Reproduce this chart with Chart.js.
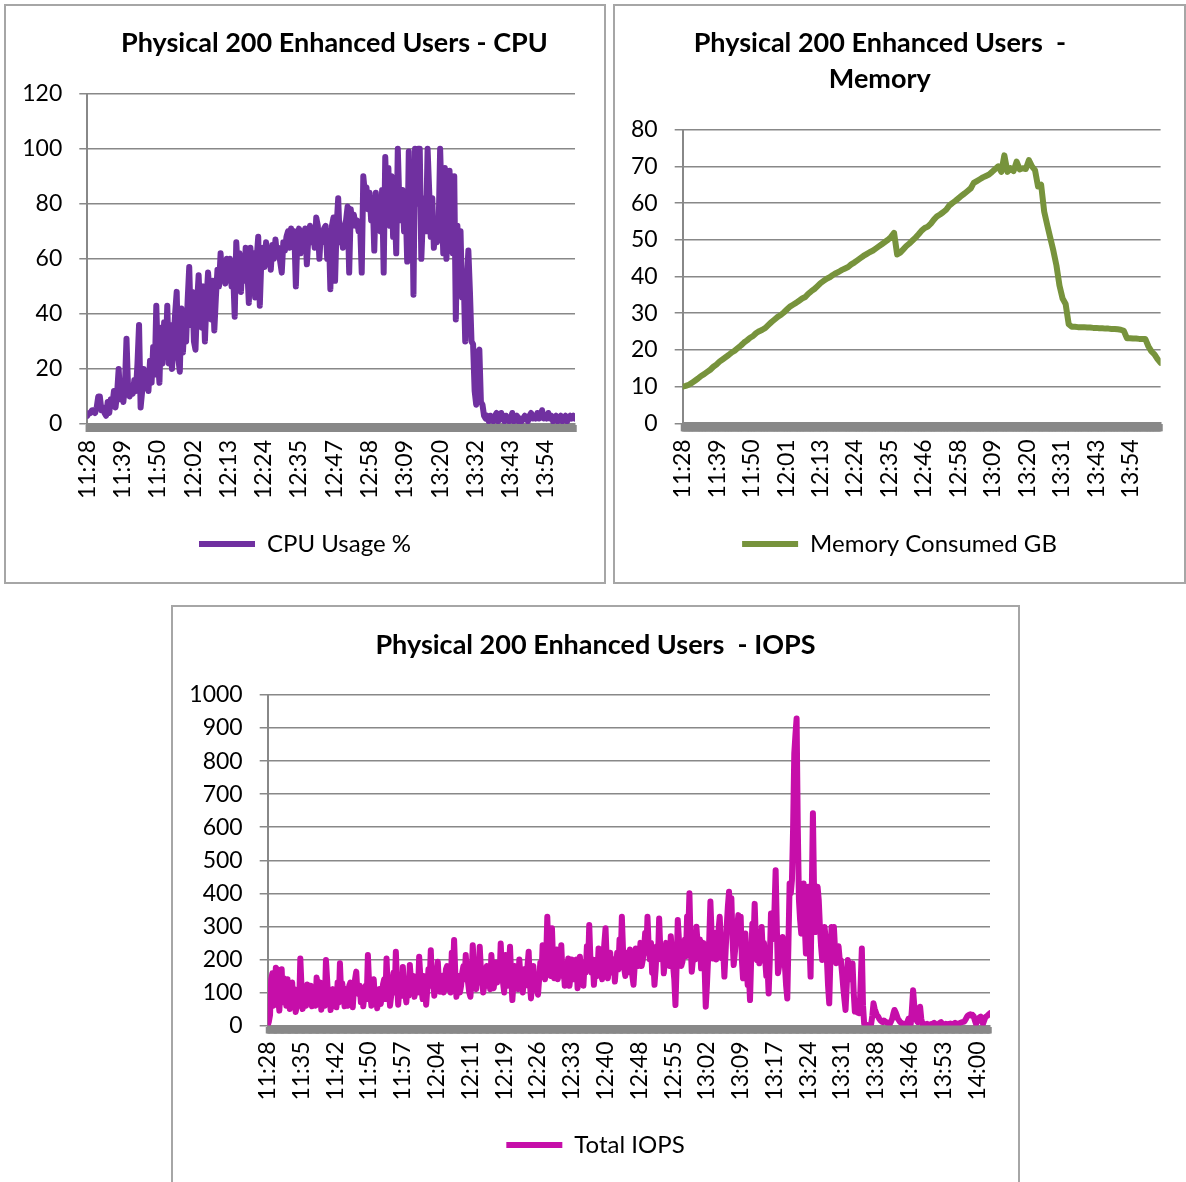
<!DOCTYPE html>
<html>
<head>
<meta charset="utf-8">
<title>Physical 200 Enhanced Users</title>
<script src="https://cdn.jsdelivr.net/npm/chart.js@4.4.1/dist/chart.umd.min.js"></script>
<style>
  html, body { margin: 0; padding: 0; background: #fff; overflow: hidden; }
  .box { position: absolute; border: 2px solid #a6a6a6; box-sizing: border-box; }
  .box canvas { display: block; }
</style>
</head>
<body>
<div class="box" style="left:4px;top:4px;width:602px;height:580px"><canvas id="cpu" width="598" height="576"></canvas></div>
<div class="box" style="left:613px;top:4px;width:573px;height:580px"><canvas id="memory" width="569" height="576"></canvas></div>
<div class="box" style="left:171px;top:605px;width:849px;height:581px"><canvas id="iops" width="845" height="577"></canvas></div>
<script>
// minutes between samples, counted from 11:28
const cpuStep = 0.5;
const memoryStep = 1;
const iopsStep = 0.25;

const cpuTimes = ['11:28', '11:39', '11:50', '12:02', '12:13', '12:24', '12:35',
  '12:47', '12:58', '13:09', '13:20', '13:32', '13:43', '13:54'];
const memoryTimes = ['11:28', '11:39', '11:50', '12:01', '12:13', '12:24', '12:35',
  '12:46', '12:58', '13:09', '13:20', '13:31', '13:43', '13:54'];
const iopsTimes = ['11:28', '11:35', '11:42', '11:50', '11:57', '12:04', '12:11', '12:19',
  '12:26', '12:33', '12:40', '12:48', '12:55', '13:02', '13:09', '13:17', '13:24', '13:31',
  '13:38', '13:46', '13:53', '14:00'];

const cpuUsage = [
  3, 4, 4, 5, 5, 4, 6, 10, 10, 5,
  6, 4, 3, 8, 4, 9, 7, 12, 6, 11,
  20, 9, 12, 8, 14, 31, 13, 10, 12, 11,
  16, 12, 22, 36, 6, 12, 20, 13, 16, 12,
  23, 15, 28, 18, 43, 24, 15, 35, 22, 37,
  25, 43, 22, 36, 20, 30, 40, 48, 24, 19,
  42, 26, 38, 30, 45, 57, 36, 48, 30, 27,
  44, 54, 40, 35, 50, 30, 45, 55, 48, 38,
  52, 34, 46, 56, 50, 62, 52, 58, 51, 60,
  54, 60, 50, 55, 39, 66, 55, 62, 48, 60,
  52, 64, 57, 44, 64, 55, 62, 46, 60, 68,
  43, 60, 64, 57, 66, 58, 63, 56, 65, 60,
  67, 61, 64, 59, 55, 66, 63, 68, 70, 64,
  71, 65, 70, 50, 68, 71, 62, 70, 66, 71,
  58, 68, 72, 66, 70, 64, 75, 72, 60, 70,
  66, 71, 72, 60, 70, 49, 72, 75, 52, 72,
  82, 66, 70, 64, 72, 74, 79, 55, 78, 72,
  76, 72, 74, 70, 72, 55, 90, 84, 86, 78,
  84, 74, 82, 63, 84, 72, 82, 70, 85, 55,
  97, 80, 93, 72, 90, 68, 80, 62, 100, 80,
  74, 85, 70, 80, 59, 99, 70, 90, 47, 100,
  80, 100, 100, 60, 75, 82, 70, 100, 85, 68,
  82, 64, 72, 66, 70, 100, 80, 62, 93, 60,
  70, 92, 66, 62, 90, 38, 72, 60, 70, 46,
  54, 30, 52, 63, 48, 30, 29, 12, 7, 26,
  27, 8, 7, 3, 2, 3, 1, 3, 2, 1,
  3, 4, 1, 2, 4, 2, 1, 3, 2, 1,
  2, 4, 1, 2, 3, 1, 2, 1, 2, 3,
  2, 1, 3, 4, 2, 3, 2, 4, 2, 3,
  5, 2, 3, 2, 4, 2, 3, 1, 2, 3,
  1, 2, 3, 1, 2, 3, 1, 2, 3, 2,
  3, 2
];

const memoryConsumed = [
  10.0, 10.2, 10.5, 11.0, 11.6, 12.2, 12.9, 13.4, 14.0, 14.6,
  15.4, 16.0, 16.8, 17.4, 18.0, 18.6, 19.3, 19.8, 20.5, 21.2,
  22.0, 22.6, 23.3, 23.8, 24.6, 25.1, 25.5, 26.0, 26.8, 27.6,
  28.3, 29.0, 29.5, 30.2, 31.0, 31.8, 32.3, 32.8, 33.4, 34.0,
  34.4, 35.3, 36.0, 36.6, 37.4, 38.2, 38.8, 39.4, 39.8, 40.4,
  40.9, 41.3, 41.8, 42.2, 42.6, 43.3, 43.8, 44.4, 45.0, 45.6,
  46.1, 46.6, 47.0, 47.6, 48.2, 48.8, 49.4, 50.0, 50.8, 51.9,
  46.0, 46.5, 47.4, 48.3, 49.0, 49.8, 50.6, 51.5, 52.5, 53.2,
  53.6, 54.4, 55.5, 56.4, 56.9, 57.5, 58.2, 59.3, 60.0, 60.6,
  61.3, 62.0, 62.6, 63.3, 64.0, 65.5, 66.0, 66.5, 67.0, 67.4,
  67.8, 68.5, 69.3, 70.0, 68.5, 73.0, 68.5, 69.5, 68.7, 71.3,
  69.2, 69.5, 69.3, 71.7, 70.0, 69.0, 64.5, 65.0, 57.7, 54.0,
  50.5, 47.0, 43.0, 37.5, 34.0, 32.5, 27.0, 26.3, 26.3, 26.2,
  26.2, 26.2, 26.1, 26.1, 26.0, 26.0, 25.9, 25.9, 25.8, 25.8,
  25.7, 25.7, 25.6, 25.5, 25.2, 23.2, 23.2, 23.1, 23.1, 23.0,
  23.0, 23.0, 21.0, 19.6, 18.8, 17.5, 16.5
];

// one reading every 15 s
const totalIops = [
  0, 12, 32, 140, 158, 60, 120, 175, 170, 80, 45, 120, 170, 70, 143, 110, 60, 140, 95, 50,
  104, 130, 70, 110, 41, 60, 100, 60, 203, 120, 50, 95, 90, 60, 124, 100, 75, 120, 58, 70,
  110, 60, 145, 120, 90, 130, 48, 80, 120, 60, 198, 140, 70, 110, 47, 90, 110, 60, 90, 55,
  130, 70, 188, 100, 128, 90, 58, 110, 100, 60, 120, 130, 80, 55, 110, 140, 163, 100, 95, 120,
  70, 115, 58, 90, 120, 80, 213, 130, 100, 60, 124, 140, 80, 110, 52, 95, 110, 65, 90, 125,
  140, 80, 203, 120, 110, 60, 90, 130, 160, 100, 223, 130, 63, 110, 140, 90, 177, 120, 100, 70,
  130, 90, 183, 135, 120, 150, 87, 120, 140, 100, 208, 150, 110, 80, 150, 120, 63, 110, 170, 130,
  228, 120, 140, 90, 120, 160, 193, 130, 102, 140, 150, 100, 120, 170, 180, 110, 140, 100, 220, 150,
  259, 160, 87, 120, 150, 100, 120, 160, 180, 140, 213, 160, 130, 100, 87, 140, 243, 180, 150, 110,
  180, 130, 238, 170, 140, 100, 124, 160, 180, 120, 150, 110, 213, 150, 113, 140, 190, 130, 170, 140,
  248, 170, 130, 100, 213, 150, 120, 170, 238, 150, 77, 130, 180, 120, 150, 110, 200, 140, 120, 100,
  170, 120, 140, 180, 223, 130, 82, 130, 180, 120, 150, 110, 93, 140, 190, 150, 243, 170, 140, 200,
  329, 220, 200, 150, 294, 190, 143, 180, 230, 140, 180, 150, 243, 160, 170, 120, 133, 170, 203, 120,
  150, 200, 190, 140, 160, 200, 113, 150, 208, 140, 150, 120, 190, 160, 240, 180, 304, 200, 160, 200,
  123, 170, 200, 150, 233, 180, 170, 140, 200, 250, 294, 200, 143, 180, 220, 160, 170, 200, 133, 180,
  220, 170, 260, 200, 329, 230, 173, 150, 220, 160, 180, 230, 203, 150, 123, 180, 233, 190, 180, 210,
  250, 180, 200, 230, 280, 220, 329, 240, 200, 250, 160, 200, 123, 170, 240, 200, 324, 230, 200, 240,
  158, 200, 250, 190, 220, 180, 270, 220, 180, 140, 62, 180, 319, 260, 230, 180, 193, 230, 260, 210,
  330, 280, 400, 250, 163, 200, 240, 200, 299, 250, 220, 260, 173, 210, 250, 180, 57, 120, 200, 260,
  375, 280, 203, 250, 280, 200, 240, 290, 329, 250, 203, 230, 148, 220, 300, 360, 405, 300, 385, 260,
  183, 220, 260, 300, 334, 260, 329, 200, 143, 200, 278, 200, 123, 160, 77, 200, 308, 250, 368, 260,
  198, 240, 188, 240, 298, 220, 250, 200, 150, 180, 97, 200, 339, 260, 280, 350, 470, 300, 158, 180,
  200, 230, 268, 220, 178, 120, 82, 250, 430, 400, 440, 600, 823, 880, 929, 600, 380, 320, 278, 350,
  430, 300, 218, 300, 420, 260, 148, 400, 642, 400, 283, 350, 420, 380, 300, 240, 198, 250, 298, 260,
  200, 120, 67, 200, 298, 240, 298, 230, 188, 210, 240, 200, 198, 160, 117, 80, 47, 120, 198, 170,
  140, 160, 188, 100, 42, 45, 40, 38, 37, 130, 233, 60, 5, 3, 2, 1, 0, 2, 5, 30,
  67, 50, 40, 30, 27, 20, 15, 12, 10, 15, 12, 10, 8, 6, 5, 12, 20, 35, 47, 40,
  30, 20, 15, 10, 8, 6, 5, 4, 3, 10, 20, 12, 5, 50, 107, 60, 30, 15, 10, 30,
  57, 20, 5, 4, 3, 4, 5, 3, 2, 3, 5, 6, 8, 5, 3, 4, 5, 8, 10, 6,
  4, 3, 5, 4, 3, 5, 6, 5, 4, 6, 8, 6, 5, 6, 7, 9, 10, 11, 12, 18,
  25, 30, 32, 34, 30, 32, 28, 15, 5, 12, 20, 25, 27, 15, 5, 15, 25, 28, 30, 34,
  37
];

const font = 'Lato, "Open Sans", sans-serif';
const grey = '#888888';
Chart.defaults.font.family = font;
Chart.defaults.color = '#000';

// time axis: a tick mark every 15 s (they run together into the grey band under the plot)
// and a label every `every` ticks
function timeAxis(times, max, every, height) {
  return {
    type: 'linear',
    min: 0,
    max: max,
    afterBuildTicks: (scale) => {
      const ticks = [];
      for (let m = 0; m <= max; m += 0.25) ticks.push({ value: m });
      scale.ticks = ticks;
    },
    afterFit: (scale) => {
      scale.height = height;
      // the blank end labels should not push the plot in from the sides
      scale.paddingLeft = 0;
      scale.paddingRight = 0;
    },
    grid: { drawOnChartArea: false, color: grey, lineWidth: 1.5, tickWidth: 4, tickLength: 8 },
    border: { color: grey, width: 2 },
    ticks: {
      autoSkip: false,
      maxRotation: 90,
      minRotation: 90,
      padding: 8,
      font: { size: 23 },
      callback: (value, index) => (index % every === 0 && times[index / every]) || ''
    }
  };
}

function valueAxis(max, step, width) {
  return {
    min: 0,
    max: max,
    afterFit: (scale) => { scale.width = width; },
    grid: { color: grey, lineWidth: 1.5, tickLength: 8 },
    border: { color: grey, width: 2 },
    ticks: { stepSize: step, padding: 17, font: { size: 23 }, callback: (value) => String(value) }
  };
}

// empty strip on the right of the plot, so the title and legend still centre on the whole box
function rightMargin(width) {
  return {
    position: 'right',
    afterFit: (scale) => { scale.width = width; },
    grid: { display: false },
    border: { display: false },
    ticks: { display: false }
  };
}

function series(label, values, step, color) {
  return {
    label: label,
    data: values.map((v, i) => ({ x: i * step, y: v })),
    borderColor: color,
    backgroundColor: color,
    borderWidth: 6,
    borderJoinStyle: 'round',
    borderCapStyle: 'round',
    pointRadius: 0,
    tension: 0
  };
}

function plugins(title, titlePadding, fullSize) {
  return {
    title: {
      display: true,
      text: title,
      fullSize: fullSize,
      color: '#000',
      font: { size: 27, weight: 'bold', lineHeight: 1.35 },
      padding: titlePadding
    },
    legend: {
      position: 'bottom',
      labels: {
        usePointStyle: true,
        pointStyle: 'line',
        pointStyleWidth: 56,
        padding: 10,
        font: { size: 24 }
      }
    },
    tooltip: { enabled: false }
  };
}

const common = { responsive: false, animation: false, devicePixelRatio: 1 };

new Chart(document.getElementById('cpu'), {
  type: 'line',
  data: { datasets: [series('CPU Usage %', cpuUsage, cpuStep, '#7030a0')] },
  options: {
    ...common,
    layout: { padding: { top: 0, left: 0, right: 0, bottom: 16 } },
    scales: {
      x: timeAxis(cpuTimes, (cpuUsage.length - 1) * cpuStep, 45, 98),
      y: valueAxis(120, 20, 81.3),
      right: rightMargin(29)
    },
    plugins: plugins(' Physical 200 Enhanced Users - CPU', { top: 18.8, bottom: 32.45 }, false)
  }
});

// the memory title sits a little left of the middle of its box
const memoryTitle = ['Physical 200 Enhanced Users  -', 'Memory'].map((s) => s + ' '.repeat(6));

new Chart(document.getElementById('memory'), {
  type: 'line',
  data: { datasets: [series('Memory Consumed GB', memoryConsumed, memoryStep, '#77933c')] },
  options: {
    ...common,
    layout: { padding: { top: 0, left: 0, right: 0, bottom: 16 } },
    scales: {
      x: timeAxis(memoryTimes, (memoryConsumed.length - 1) * memoryStep, 45, 98.7),
      y: valueAxis(80, 10, 67.7),
      right: rightMargin(23.4)
    },
    plugins: plugins(memoryTitle, { top: 18.8, bottom: 32 }, true)
  }
});

new Chart(document.getElementById('iops'), {
  type: 'line',
  data: { datasets: [series('Total IOPS', totalIops, iopsStep, '#c60ea9')] },
  options: {
    ...common,
    layout: { padding: { top: 0, left: 0, right: 0, bottom: 17 } },
    scales: {
      x: timeAxis(iopsTimes, (totalIops.length - 1) * iopsStep, 29, 97.5),
      y: valueAxis(1000, 100, 94.7),
      right: rightMargin(28)
    },
    plugins: plugins('Physical 200 Enhanced Users  - IOPS', { top: 19.8, bottom: 31.75 }, true)
  }
});
</script>
</body>
</html>
